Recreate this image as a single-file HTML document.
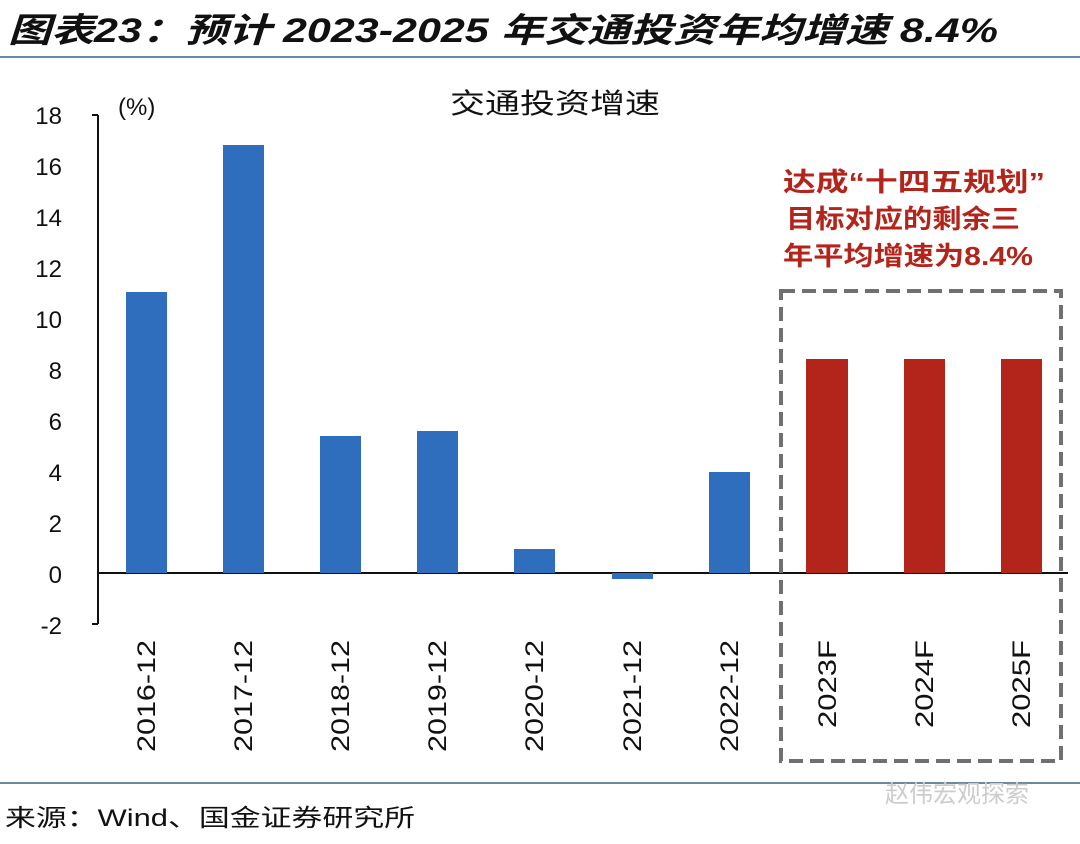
<!DOCTYPE html>
<html><head><meta charset="utf-8"><style>
body{margin:0;background:#fff;}
svg text{font-family:"Liberation Sans","Noto Sans CJK SC",sans-serif;}
</style></head><body>
<svg width="1080" height="839" xmlns="http://www.w3.org/2000/svg">
<text x="8" y="42" font-size="34" font-weight="bold" font-style="italic" fill="#111" textLength="990" lengthAdjust="spacingAndGlyphs">图表23：预计 2023-2025 年交通投资年均增速 8.4%</text>
<rect x="0" y="56" width="1080" height="2" fill="#6a8aa3"/>
<rect x="0" y="782" width="1080" height="2" fill="#6a8aa3"/>
<text x="5" y="826" font-size="24" fill="#111" textLength="410" lengthAdjust="spacingAndGlyphs">来源：Wind、国金证券研究所</text>
<text x="885" y="802" font-size="24" fill="#ccc">赵伟宏观探索</text>
<text x="450" y="113" font-size="28" fill="#111" textLength="210" lengthAdjust="spacingAndGlyphs" font-family="Noto Serif CJK SC,serif">交通投资增速</text>
<text x="118" y="115" font-size="24" fill="#111">(%)</text>
<g font-size="24" fill="#111" text-anchor="end">
<text x="62" y="124">18</text><text x="62" y="175">16</text><text x="62" y="226">14</text><text x="62" y="277">12</text><text x="62" y="328">10</text><text x="62" y="379">8</text><text x="62" y="430">6</text><text x="62" y="481">4</text><text x="62" y="532">2</text><text x="62" y="583">0</text><text x="62" y="634">-2</text>
</g>
<g stroke="#111" stroke-width="2">
<line x1="98" y1="115" x2="98" y2="624"/>
<line x1="98" y1="573" x2="1068" y2="573"/>
<line x1="92" y1="115" x2="98" y2="115"/><line x1="92" y1="624" x2="98" y2="624"/>
</g>
<g fill="#2f6ebd">
<rect x="126" y="292" width="41" height="281"/>
<rect x="223" y="145" width="41" height="428"/>
<rect x="320" y="436" width="41" height="137"/>
<rect x="417" y="431" width="41" height="142"/>
<rect x="514" y="549" width="41" height="24"/>
<rect x="612" y="573" width="41" height="6"/>
<rect x="709" y="472" width="41" height="101"/>
</g>
<g fill="#b3241b">
<rect x="806" y="359" width="42" height="214"/>
<rect x="904" y="359" width="41" height="214"/>
<rect x="1001" y="359" width="41" height="214"/>
</g>
<g font-size="25" fill="#111" text-anchor="end">
<text transform="translate(155,640) rotate(-90)" textLength="112" lengthAdjust="spacingAndGlyphs">2016-12</text>
<text transform="translate(252,640) rotate(-90)" textLength="112" lengthAdjust="spacingAndGlyphs">2017-12</text>
<text transform="translate(349,640) rotate(-90)" textLength="112" lengthAdjust="spacingAndGlyphs">2018-12</text>
<text transform="translate(446,640) rotate(-90)" textLength="112" lengthAdjust="spacingAndGlyphs">2019-12</text>
<text transform="translate(543,640) rotate(-90)" textLength="112" lengthAdjust="spacingAndGlyphs">2020-12</text>
<text transform="translate(641,640) rotate(-90)" textLength="112" lengthAdjust="spacingAndGlyphs">2021-12</text>
<text transform="translate(738,640) rotate(-90)" textLength="112" lengthAdjust="spacingAndGlyphs">2022-12</text>
<text transform="translate(836,640) rotate(-90)" textLength="88" lengthAdjust="spacingAndGlyphs">2023F</text>
<text transform="translate(933,640) rotate(-90)" textLength="88" lengthAdjust="spacingAndGlyphs">2024F</text>
<text transform="translate(1030,640) rotate(-90)" textLength="88" lengthAdjust="spacingAndGlyphs">2025F</text>
</g>
<rect x="781" y="291" width="280" height="470" fill="none" stroke="#707070" stroke-width="4" stroke-dasharray="14,7"/>
<g font-size="26" font-weight="bold" fill="#b3241b">
<text x="783" y="191" textLength="262" lengthAdjust="spacingAndGlyphs">达成“十四五规划”</text>
<text x="786" y="228" textLength="234" lengthAdjust="spacingAndGlyphs">目标对应的剩余三</text>
<text x="783" y="265" textLength="250" lengthAdjust="spacingAndGlyphs">年平均增速为8.4%</text>
</g>
</svg>
</body></html>
